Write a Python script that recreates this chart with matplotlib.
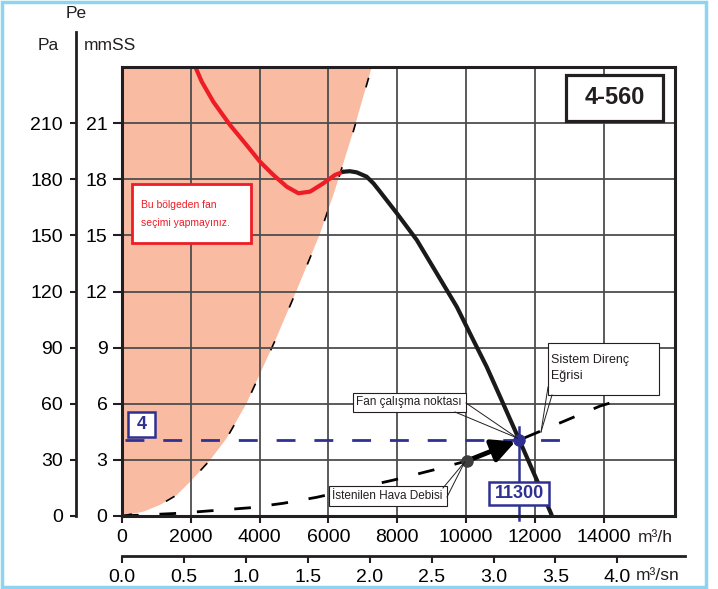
import matplotlib
matplotlib.use("Agg")
import matplotlib.pyplot as plt
from matplotlib.patches import Rectangle
from matplotlib.lines import Line2D

# ---------------- data ----------------
fan_unstable_q = [2150, 2320, 2655, 3140, 3620, 4010, 4400, 4790, 5130, 5470, 5850, 6190, 6430]
fan_unstable_p = [239.3, 232.1, 221.4, 209, 198.3, 189.4, 182.3, 176, 172.5, 173.4, 177.8, 182.3, 184]
fan_stable_q = [6430, 6620, 6820, 7110, 7310, 7500, 7990, 8570, 9150, 9730, 10210, 10600, 10990,
                11550, 12060, 12490]
fan_stable_p = [184, 184.3, 183.7, 181.4, 177.8, 173.4, 161.8, 147.5, 129.7, 111.9, 94.1, 79.8, 63.8,
                40.6, 19.2, 0.5]

limit_q = [0, 620, 1100, 1590, 1980, 2560, 3040, 3620, 4500, 5080, 5760, 6190, 6730, 7260]
limit_p = [0, 2.3, 5.9, 11.2, 18.3, 29.9, 41.5, 60.2, 95.8, 120.8, 151.1, 174.2, 206, 240]

system_q = [0, 1590, 3720, 4690, 5660, 7890, 9050, 10020, 11550, 13900, 14190]
system_p = [0, 1.4, 4.4, 6.8, 10, 19.2, 24.6, 29.4, 40.6, 58.8, 60.4]

op_q, op_p = 11550, 40.6          # fan operating point
des_q, des_p = 10020, 29.4        # desired air flow point
op_label = "11300"
op_mm_label = "4"
ref_line_q = [100, 12800]         # blue horizontal reference line extent

x_ticks = [0, 2000, 4000, 6000, 8000, 10000, 12000, 14000]
x_labels = ["0", "2000", "4000", "6000", "8000", "10000", "12000", "14000"]
pa_ticks = [0, 30, 60, 90, 120, 150, 180, 210]
pa_labels = ["0", "30", "60", "90", "120", "150", "180", "210"]
mm_labels = ["0", "3", "6", "9", "12", "15", "18", "21"]
sn_ticks = [0.0, 0.5, 1.0, 1.5, 2.0, 2.5, 3.0, 3.5, 4.0]
sn_labels = ["0.0", "0.5", "1.0", "1.5", "2.0", "2.5", "3.0", "3.5", "4.0"]

model_name = "4-560"
warning_text = "Bu bölgeden fan\nseçimi yapmayınız."
# --------------------------------------

W, H = 718, 589
plt.rcParams["font.family"] = ["Liberation Sans Narrow", "Liberation Sans", "DejaVu Sans"]
REG = ["Liberation Sans", "DejaVu Sans"]

DARK = "#231F20"
BLUE = "#2E3192"
RED = "#EE1C25"
SALMON = "#F9BBA2"
GRID = "#4d4d4d"

fig = plt.figure(figsize=(W / 100, H / 100), dpi=100)
fig.patch.set_facecolor("white")


def F(x, y):
    return (x / W, 1 - y / H)


def rect_px(x0, y0, x1, y1, **kw):
    r = Rectangle(F(x0, y1), (x1 - x0) / W, (y1 - y0) / H, transform=fig.transFigure, **kw)
    fig.add_artist(r)
    return r


def line_px(xs, ys, **kw):
    l = Line2D([x / W for x in xs], [1 - y / H for y in ys], transform=fig.transFigure, **kw)
    fig.add_artist(l)
    return l


def text_px(x, y, s, **kw):
    return fig.text(x / W, 1 - y / H, s, **kw)


# main axes
L, R, T, B = 122, 675, 67, 516
ax = fig.add_axes([L / W, 1 - B / H, (R - L) / W, (B - T) / H])
ax.set_xlim(0, (R - L) / 0.0344)
ax.set_ylim(0, 240)

# forbidden zone fill
ax.fill(limit_q + [0], limit_p + [240], color=SALMON, lw=0, zorder=0.5)

ax.set_xticks(x_ticks)
ax.set_xticklabels(x_labels, fontsize=14)
ax.set_yticks(pa_ticks)
ax.set_yticklabels(mm_labels, fontsize=14)
ax.tick_params(axis="x", length=5, width=1.5, color=DARK, pad=4)
ax.tick_params(axis="y", length=6.5, width=1.5, color=DARK, pad=4)
ax.grid(True, color=GRID, lw=1.3, zorder=1)
ax.set_axisbelow(False)
for s in ax.spines.values():
    s.set_linewidth(2.2)
    s.set_color(DARK)
    s.set_zorder(6)

# limit (dashed thin)
ax.plot(limit_q, limit_p, color="black", lw=1.2, dashes=(6, 22), zorder=2)
# system curve
ax.plot(system_q, system_p, color="black", lw=2.0, dashes=(6, 7.5), zorder=3)
# fan curves
ax.plot(fan_unstable_q, fan_unstable_p, color=RED, lw=3.0, solid_capstyle="round",
        solid_joinstyle="round", zorder=4)
ax.plot(fan_stable_q, fan_stable_p, color="#1a1a1a", lw=3.0, solid_capstyle="round",
        solid_joinstyle="round", zorder=4)

# blue reference lines
ax.plot(ref_line_q, [op_p, op_p], color=BLUE, lw=2.0, dashes=(6.8, 6.8), zorder=3.5)
ax.plot([op_q, op_q], [op_p + 7, -2], color=BLUE, lw=1.8, zorder=3.5, clip_on=False)

# arrow and points
ax.annotate("", xy=(op_q, op_p), xytext=(des_q, des_p), zorder=5,
            arrowprops=dict(arrowstyle="-|>,head_length=1.0,head_width=0.5",
                            lw=3.5, color="black", mutation_scale=14,
                            shrinkA=0, shrinkB=3))
ax.plot([des_q], [des_p], "o", color="#3d3d3d", ms=8, zorder=5.5)
ax.plot([op_q], [op_p], "o", color=BLUE, ms=8, zorder=5.5)


def d2px(q, p):
    X, Y = ax.transData.transform((q, p))
    return X, H - Y


opx, opy = d2px(op_q, op_p)
dsx, dsy = d2px(des_q, des_p)

# 11300 box
rect_px(opx - 30, 482, opx + 30, 505, facecolor="white", edgecolor=BLUE, lw=1.8, zorder=7)
text_px(opx, 493.5, op_label, ha="center", va="center", color=BLUE, fontsize=13,
        fontweight="bold", zorder=8)
# 4 box
rect_px(128, 412, 155, 437, facecolor="white", edgecolor=BLUE, lw=1.8, zorder=7)
text_px(141.5, 424.5, op_mm_label, ha="center", va="center", color=BLUE, fontsize=13,
        fontweight="bold", zorder=8)

# model box
rect_px(566, 75, 663, 121, facecolor="white", edgecolor=DARK, lw=2.3, zorder=7)
text_px(614.5, 98, model_name, ha="center", va="center", color=DARK, fontsize=17,
        fontweight="bold", zorder=8)

# warning box
rect_px(132, 184, 251, 243, facecolor="white", edgecolor=RED, lw=2.0, zorder=7)
text_px(141, 214, warning_text, ha="left", va="center", color=RED, fontsize=7.5,
        family=REG, linespacing=1.9, zorder=8)

# annotation boxes
rect_px(548, 343, 659, 395, facecolor="white", edgecolor=DARK, lw=0.8, zorder=7)
text_px(551, 368, "Sistem Direnç\nEğrisi", ha="left", va="center", color=DARK,
        fontsize=9, family=REG, linespacing=1.4, zorder=8)
line_px([552, 541], [395, 432], color=DARK, lw=0.7, zorder=7)
line_px([548, 541], [387, 432], color=DARK, lw=0.7, zorder=7)

rect_px(353, 393, 466, 412, facecolor="white", edgecolor=DARK, lw=0.8, zorder=7)
text_px(356, 402.5, "Fan çalışma noktası", ha="left", va="center", color=DARK,
        fontsize=8.5, family=REG, zorder=8)
line_px([466, opx - 2], [403, opy - 2], color=DARK, lw=0.7, zorder=7)
line_px([455, opx - 2], [412, opy - 2], color=DARK, lw=0.7, zorder=7)

rect_px(329, 486, 447, 506, facecolor="white", edgecolor=DARK, lw=0.8, zorder=7)
text_px(332, 496, "İstenilen Hava Debisi", ha="left", va="center", color=DARK,
        fontsize=8.5, family=REG, zorder=8)
line_px([443, dsx - 2], [488, dsy + 1], color=DARK, lw=0.7, zorder=7)
line_px([447, dsx - 2], [497, dsy + 1], color=DARK, lw=0.7, zorder=7)

# Pa axis
axp = fig.add_axes([76 / W, 1 - B / H, 0.0001, (B - 32) / H])
axp.set_ylim(0, (B - 32) / ((B - T) / 240))
axp.set_xticks([])
axp.set_yticks(pa_ticks)
axp.set_yticklabels(pa_labels, fontsize=14)
axp.tick_params(axis="y", length=4.3, width=1.5, color=DARK, pad=5)
for k in ["top", "right", "bottom"]:
    axp.spines[k].set_visible(False)
axp.spines["left"].set_linewidth(2.0)
axp.spines["left"].set_color(DARK)
axp.patch.set_visible(False)

# m3/sn axis
axs = fig.add_axes([L / W, 1 - 556 / H, (685 - L) / W, 0.0001])
axs.set_xlim(0, (685 - L) / 0.0344 / 3600)
axs.set_yticks([])
axs.set_xticks(sn_ticks)
axs.set_xticklabels(sn_labels, fontsize=14)
axs.tick_params(axis="x", length=5, width=1.5, color=DARK, pad=4)
for k in ["top", "right", "left"]:
    axs.spines[k].set_visible(False)
axs.spines["bottom"].set_linewidth(2.0)
axs.spines["bottom"].set_color(DARK)
axs.patch.set_visible(False)

# axis titles / units
text_px(76, 13, "Pe", ha="center", va="center", fontsize=12.5, family=REG, color=DARK)
text_px(48, 45, "Pa", ha="center", va="center", fontsize=12.5, family=REG, color=DARK)
text_px(110, 45, "mmSS", ha="center", va="center", fontsize=12.5, family=REG, color=DARK)
text_px(638, 537, "m³/h", ha="left", va="center", fontsize=12.5, color=DARK)
text_px(636, 575, "m³/sn", ha="left", va="center", fontsize=12.5, color=DARK)

# light blue outer frame
rect_px(1.5, 1.5, 706, 587, facecolor="none", edgecolor="#8DD4F0", lw=2.5, zorder=10)

fig.savefig("out.png", dpi=100)
